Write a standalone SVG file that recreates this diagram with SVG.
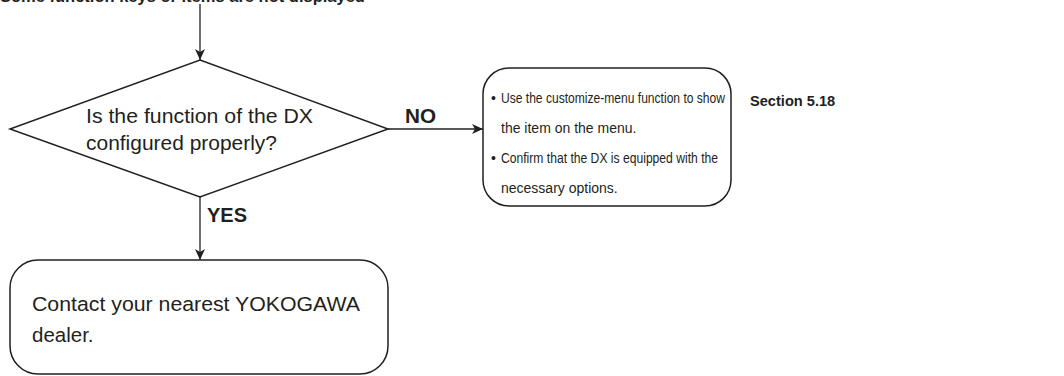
<svg xmlns="http://www.w3.org/2000/svg" width="1064" height="376" viewBox="0 0 1064 376">
<defs>
<marker id="arr" markerWidth="12" markerHeight="10" refX="11" refY="5" orient="auto" markerUnits="userSpaceOnUse">
<path d="M0,0 L11,5 L0,10 L3,5 Z" fill="#231f20"/>
</marker>
<style>
.shape{fill:#fff;stroke:#231f20;stroke-width:1.5}
.t{font-family:"Liberation Sans",Arial,sans-serif;font-size:20.5px;fill:#231f20}
.s{font-family:"Liberation Sans",Arial,sans-serif;font-size:14px;fill:#231f20}
.b{font-family:"Liberation Sans",Arial,sans-serif;font-size:20.5px;font-weight:bold;fill:#231f20}
.c{stroke:#231f20;stroke-width:1.3;fill:none}
</style>
</defs>
<rect width="1064" height="376" fill="#fff"/>
<text class="b" x="0" y="1.5" style="font-size:16.5px">Some function keys or items are not displayed</text>
<g id="connectors">
<line class="c" x1="200" y1="4" x2="200" y2="60" marker-end="url(#arr)"/>
<line class="c" x1="388" y1="129" x2="483" y2="129" marker-end="url(#arr)"/>
<line class="c" x1="200" y1="197" x2="200" y2="260" marker-end="url(#arr)"/>
<text class="b" x="405" y="123" textLength="31" lengthAdjust="spacingAndGlyphs">NO</text>
<text class="b" x="207" y="222" textLength="40" lengthAdjust="spacingAndGlyphs">YES</text>
</g>
<g id="decision">
<polygon class="shape" points="200,60 388,129 200,197 10,129"/>
<text class="t" x="86" y="123" textLength="227" lengthAdjust="spacingAndGlyphs">Is the function of the DX</text>
<text class="t" x="86" y="150" textLength="191" lengthAdjust="spacingAndGlyphs">configured properly?</text>
</g>
<g id="action">
<rect class="shape" x="483" y="68" width="248" height="138" rx="26"/>
<text class="s" x="491" y="103">•</text>
<text class="s" x="501" y="103" textLength="224" lengthAdjust="spacingAndGlyphs">Use the customize-menu function to show</text>
<text class="s" x="501" y="133">the item on the menu.</text>
<text class="s" x="491" y="163">•</text>
<text class="s" x="501" y="163" textLength="217" lengthAdjust="spacingAndGlyphs">Confirm that the DX is equipped with the</text>
<text class="s" x="501" y="193">necessary options.</text>
</g>
<g id="ref">
<text class="b" x="750" y="106" style="font-size:14.6px">Section 5.18</text>
</g>
<g id="contact">
<rect class="shape" x="10" y="260" width="378" height="114" rx="28"/>
<text class="t" x="32" y="311" textLength="328" lengthAdjust="spacingAndGlyphs">Contact your nearest YOKOGAWA</text>
<text class="t" x="32" y="342">dealer.</text>
</g>
</svg>
